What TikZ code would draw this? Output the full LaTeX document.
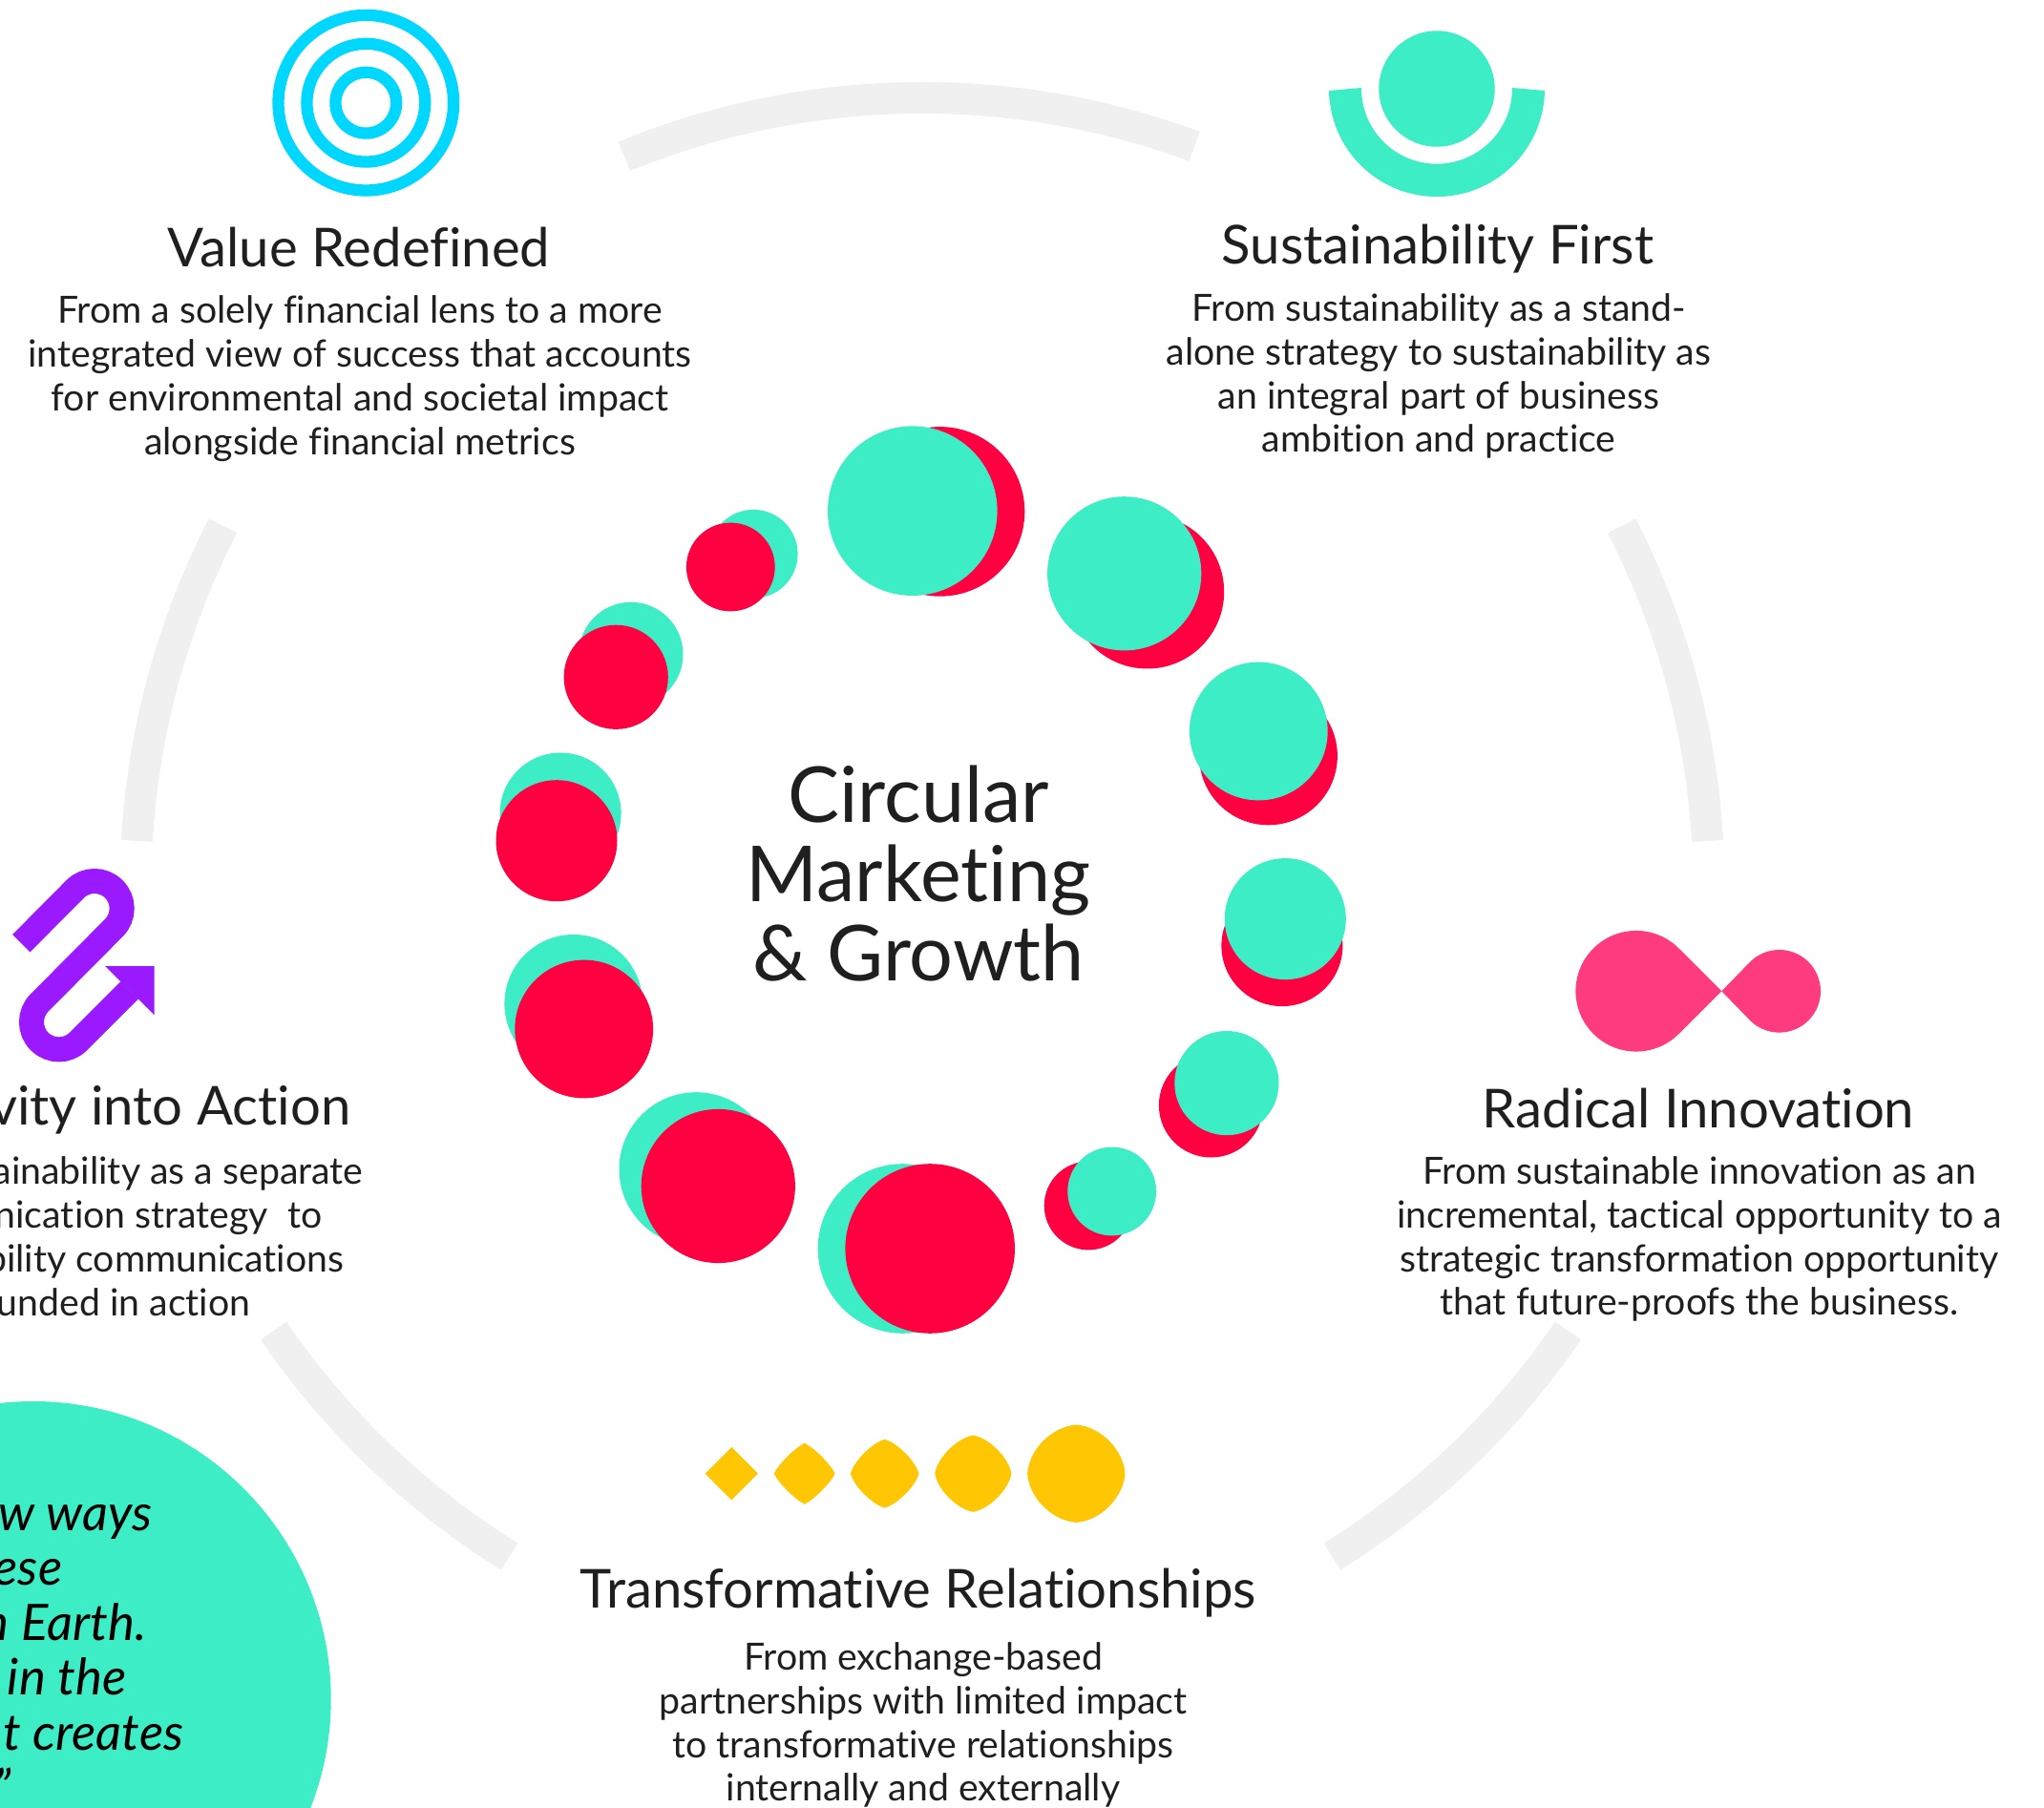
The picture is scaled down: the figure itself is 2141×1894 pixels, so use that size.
\documentclass[tikz,border=0pt]{standalone}
\usepackage{fontspec}
\setmainfont{Lato}[Ligatures=NoCommon]
\definecolor{tealfill}{HTML}{3DEDC6}
\definecolor{redfill}{HTML}{FF0040}
\definecolor{ringgray}{HTML}{F0F0F0}
\definecolor{targetblue}{HTML}{00D7FF}
\definecolor{pinkfill}{HTML}{FF3B7F}
\definecolor{purplefill}{HTML}{9A19FF}
\definecolor{yellowfill}{HTML}{FFC603}
\definecolor{inktext}{HTML}{1F1F1F}
\tikzset{
  ringarc/.style={draw=ringgray,line width=0.33cm},
  titletext/.style={inner sep=0,text=inktext,font=\fontsize{16}{19}\selectfont},
  bodytext/.style={inner sep=0,text=inktext,align=center,font=\fontsize{11.15}{13.05}\selectfont},
  bodyline/.style={inner sep=0,text=inktext,anchor=base east,font=\fontsize{11.15}{13.05}\selectfont},
  quoteline/.style={inner sep=0,text=black,anchor=base east,font=\fontsize{15}{16}\itshape\selectfont},
  centertext/.style={inner sep=0,text=inktext,align=center,font=\fontsize{23}{23.5}\selectfont}
}
\newcommand{\softdiamond}[4]{%
  \fill[yellowfill] ({#1+#2},1543.7)
    .. controls ({#1+#2*#3},{1543.7-#2*#4}) and ({#1+#2*#4},{1543.7-#2*#3}) .. (#1,{1543.7-#2})
    .. controls ({#1-#2*#4},{1543.7-#2*#3}) and ({#1-#2*#3},{1543.7-#2*#4}) .. ({#1-#2},1543.7)
    .. controls ({#1-#2*#3},{1543.7+#2*#4}) and ({#1-#2*#4},{1543.7+#2*#3}) .. (#1,{1543.7+#2})
    .. controls ({#1+#2*#4},{1543.7+#2*#3}) and ({#1+#2*#3},{1543.7+#2*#4}) .. ({#1+#2},1543.7) -- cycle;}
\begin{document}
\begin{tikzpicture}[x=0.01cm,y=0.01cm,yscale=-1]
\useasboundingbox (0,0) rectangle (2141,1894);
\clip (0,0) rectangle (2141,1894);
%%Ring
\draw[ringarc] (653.9,163.7) arc (-112.2:-69.8:826);
\draw[ringarc] (1698.6,550.9) arc (-27.2:-3.3:826);
\draw[ringarc] (233.4,550.9) arc (-152.8:-176.7:826);
\draw[ringarc] (1642.4,1394) arc (34.3:58.2:826);
\draw[ringarc] (286.6,1394) arc (145.7:121.8:826);
%%Bubbles, teal on top
\fill[redfill] (984.5,535.9) circle (88.8);
\fill[tealfill] (955.8,535.2) circle (88.8);
\fill[redfill] (1201.6,619.9) circle (80.6);
\fill[tealfill] (1177.7,600.8) circle (80.6);
\fill[redfill] (1328.5,791.9) circle (72.4);
\fill[tealfill] (1318.3,766) circle (72.4);
\fill[redfill] (1342.9,990.6) circle (63.5);
\fill[tealfill] (1346.3,962.6) circle (63.5);
\fill[redfill] (1268.5,1157.9) circle (54.6);
\fill[tealfill] (1284.9,1134.6) circle (54.6);
\fill[redfill] (1140.1,1263) circle (46.4);
\fill[tealfill] (1164.7,1248) circle (46.4);
%%Bubbles, red on top
\fill[tealfill] (945.5,1308) circle (88.8);
\fill[redfill] (974.2,1308) circle (88.8);
\fill[tealfill] (729.1,1224.8) circle (80.6);
\fill[redfill] (752.3,1242.5) circle (80.6);
\fill[tealfill] (600.8,1051.4) circle (72.4);
\fill[redfill] (611.7,1078) circle (72.4);
\fill[tealfill] (587.1,852) circle (63.5);
\fill[redfill] (583,880.7) circle (63.5);
\fill[tealfill] (660.9,685.4) circle (54.6);
\fill[redfill] (645.2,709.3) circle (54.6);
\fill[tealfill] (789.2,580.3) circle (46.4);
\fill[redfill] (765.3,594) circle (46.4);
%%Target
\draw[targetblue,line width=0.123cm] (383.3,107.7) circle (91.8);
\draw[targetblue,line width=0.123cm] (383.3,107.7) circle (61.9);
\draw[targetblue,line width=0.123cm] (383.3,107.7) circle (31.9);
%%Bowl
\fill[tealfill] (1505,93) circle (60.7);
\fill[tealfill] (1618,95) arc (1:179:113) -- (1426,92) arc (180.5:-0.5:79) -- cycle;
%%Drops
\fill[pinkfill] (1803.3,1038.3) -- (1758.5,993.5) arc (-45:-315:63.3) -- cycle;
\fill[pinkfill] (1803.3,1038.3) -- (1833.1,1007.7) arc (-135:135:43.3) -- cycle;
%%Arrow
\draw[purplefill,line width=0.26cm] (22.3,988.2) -- (78.7,931.4) arc (-135:45:28.7) -- (41.4,1050.4) arc (225:45:28.7) -- (135.7,1037.3);
\fill[purplefill] (110,1012) -- (161.7,1012) -- (161.7,1063.3) -- cycle;
%%Diamonds
\softdiamond{766.3}{27.7}{0.667}{0.333}
\softdiamond{842.7}{32}{0.84}{0.32}
\softdiamond{926.7}{35.8}{0.9}{0.37}
\softdiamond{1019.3}{40.1}{0.93}{0.42}
\softdiamond{1127.3}{51.2}{0.96}{0.5}
%%Quote
\fill[tealfill] (34.7,1780) circle (312);
\draw (160,1603) node (quoteA) [quoteline] {ew ways};
\draw (66,1660) node (quoteB) [quoteline] {ese};
\draw (154,1718) node (quoteC) [quoteline] {n Earth.};
\draw (133,1775.7) node (quoteD) [quoteline] {in the};
\draw (193,1833) node (quoteE) [quoteline] {t creates};
\draw (12,1891) node (quoteF) [quoteline] {”};
%%Label
\draw (962,915) node (centerLabel) [centertext] {Circular\\Marketing\\\&~Growth};
\draw (376,259) node (valueTitle) [titletext] {Value Redefined};
\draw (377,396.5) node (valueBody) [bodytext] {From a solely financial lens to a more\\integrated view of success that accounts\\for environmental and societal impact\\alongside financial metrics};
\draw (1506,261) node (sustainTitle) [titletext] {Sustainability First};
\draw (1507,394) node (sustainBody) [bodytext] {From sustainability as a stand-\\alone strategy to sustainability as\\an integral part of business\\ambition and practice};
\draw (1779,1161) node (radicalTitle) [titletext] {Radical Innovation};
\draw (1780,1298) node (radicalBody) [bodytext] {From sustainable innovation as an\\incremental, tactical opportunity to a\\strategic transformation opportunity\\that future-proofs the business.};
\draw (962,1669) node (relationTitle) [titletext] {Transformative Relationships};
\draw (967,1807) node (relationBody) [bodytext] {From exchange-based\\partnerships with limited impact\\to transformative relationships\\internally and externally};
\draw (368,1178) node (activityTitle) [titletext,anchor=base east] {vity into Action};
\draw (381,1240) node (activityA) [bodyline] {ainability as a separate};
\draw (338,1286) node (activityB) [bodyline] {nication strategy\ \ to};
\draw (361,1332) node (activityC) [bodyline] {bility communications};
\draw (263,1378) node (activityD) [bodyline] {unded in action};
\end{tikzpicture}
\end{document}
